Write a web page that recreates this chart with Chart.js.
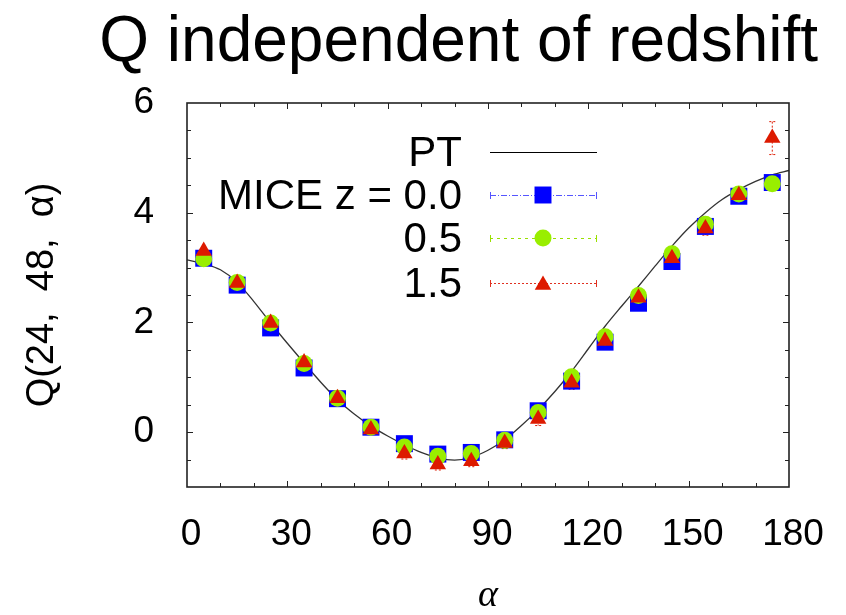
<!DOCTYPE html>
<html>
<head>
<meta charset="utf-8">
<script src="https://cdn.jsdelivr.net/npm/chart.js@4.4.0/dist/chart.umd.min.js"></script>
<style>
  html, body { margin: 0; padding: 0; background: #fff; }
  #wrap { width: 846px; height: 615px; }
</style>
</head>
<body>
<div id="wrap"><canvas id="qChart" width="846" height="615"></canvas></div>
<script>
// MICE measurements, alpha bin centres (degrees)
const alphaBins = [5, 15, 25, 35, 45, 55, 65, 75, 85, 95, 105, 115, 125, 135, 145, 155, 165, 175];
const miceZ00 = [3.17, 2.68, 1.90, 1.17, 0.61, 0.09, -0.21, -0.40, -0.37, -0.14, 0.39, 0.93, 1.64, 2.35, 3.11, 3.75, 4.30, 4.55];
const miceZ05 = [3.16, 2.73, 1.99, 1.25, 0.62, 0.09, -0.27, -0.44, -0.39, -0.15, 0.36, 1.01, 1.74, 2.49, 3.25, 3.79, 4.34, 4.53];
const miceZ15 = [3.30, 2.72, 1.99, 1.27, 0.62, 0.05, -0.39, -0.59, -0.53, -0.20, 0.24, 0.90, 1.66, 2.45, 3.17, 3.71, 4.32, 5.36];
const miceZ15Err = [0.05, 0.05, 0.05, 0.05, 0.05, 0.06, 0.1, 0.1, 0.1, 0.1, 0.12, 0.12, 0.1, 0.1, 0.1, 0.12, 0.1, 0.3];

// perturbation theory curve
const ptAlpha = [0, 5, 10, 15, 20, 25, 30, 35, 40, 45, 50, 55, 60, 65, 70, 75, 80, 85, 90,
                 95, 100, 105, 110, 115, 120, 125, 130, 135, 140, 145, 150, 155, 160, 165, 170, 175, 180];
const ptQ = [3.14, 3.07, 2.96, 2.73, 2.38, 1.99, 1.62, 1.26, 0.91, 0.59, 0.33, 0.11, -0.07, -0.23, -0.37, -0.47, -0.51, -0.46, -0.33,
             -0.14, 0.12, 0.41, 0.74, 1.11, 1.52, 1.93, 2.30, 2.66, 3.03, 3.39, 3.72, 4.00, 4.24, 4.42, 4.57, 4.69, 4.77];

const xTickLabels = [0, 30, 60, 90, 120, 150, 180];
const yTickLabels = [0, 2, 4, 6];

const FONT = '"Liberation Sans", Arial, Helvetica, sans-serif';
const TITLE = 'Q independent of redshift';

const toPoints = (xs, ys) => xs.map((x, i) => ({ x: x, y: ys[i] }));

// slide title, sits right of the plot area
const slideTitle = {
    id: 'slideTitle',
    afterDraw(chart) {
        const ctx = chart.ctx;
        ctx.save();
        ctx.font = '64px ' + FONT;
        ctx.fillStyle = '#000';
        ctx.textAlign = 'right';
        ctx.textBaseline = 'alphabetic';
        ctx.fillText(TITLE, 818, 61);
        ctx.restore();
    }
};

// error bars (dotted, gnuplot style)
const errorBars = {
    id: 'errorBars',
    beforeDatasetsDraw(chart) {
        const ctx = chart.ctx;
        const yScale = chart.scales.y;
        chart.data.datasets.forEach((ds, i) => {
            if (!ds.errors) return;
            const meta = chart.getDatasetMeta(i);
            ctx.save();
            ctx.strokeStyle = ds.borderColor;
            ctx.lineWidth = 1;
            ctx.setLineDash([2, 2]);
            meta.data.forEach((pt, j) => {
                const v = ds.data[j].y;
                const top = yScale.getPixelForValue(v + ds.errors[j]);
                const bot = yScale.getPixelForValue(v - ds.errors[j]);
                ctx.beginPath();
                ctx.moveTo(pt.x, top);
                ctx.lineTo(pt.x, bot);
                ctx.moveTo(pt.x - 3, top);
                ctx.lineTo(pt.x + 3, top);
                ctx.moveTo(pt.x - 3, bot);
                ctx.lineTo(pt.x + 3, bot);
                ctx.stroke();
            });
            ctx.restore();
        });
    }
};

// closed frame with inward ticks on all four sides
const frame = {
    id: 'frame',
    afterDraw(chart) {
        const ctx = chart.ctx;
        const a = chart.chartArea;
        const xs = chart.scales.x, ys = chart.scales.y;
        ctx.save();
        ctx.strokeStyle = '#222';
        ctx.lineWidth = 1;
        xs.ticks.forEach(t => {
            if (t.value <= xs.min || t.value >= xs.max) return;
            const px = Math.round(xs.getPixelForValue(t.value)) + 0.5;
            const len = xTickLabels.includes(t.value) ? 6 : 4;
            ctx.beginPath();
            ctx.moveTo(px, a.bottom); ctx.lineTo(px, a.bottom - len);
            ctx.moveTo(px, a.top); ctx.lineTo(px, a.top + len);
            ctx.stroke();
        });
        ys.ticks.forEach(t => {
            if (t.value <= ys.min || t.value >= ys.max) return;
            const py = Math.round(ys.getPixelForValue(t.value)) + 0.5;
            const len = yTickLabels.includes(t.value) ? 6 : 4;
            ctx.beginPath();
            ctx.moveTo(a.left, py); ctx.lineTo(a.left + len, py);
            ctx.moveTo(a.right, py); ctx.lineTo(a.right - len, py);
            ctx.stroke();
        });
        ctx.lineWidth = 1.6;
        ctx.strokeRect(a.left, a.top, a.right - a.left, a.bottom - a.top);
        ctx.restore();
    }
};

// gnuplot-like key: text right aligned, sample line with marker on the right
const keyBox = {
    id: 'keyBox',
    afterDraw(chart) {
        const ctx = chart.ctx;
        const textRight = 462, x0 = 490, x1 = 597, xm = 543;
        const rows = [152, 195, 238, 283];
        const entries = [0, 1, 2, 3].map(i => chart.data.datasets[i]);
        ctx.save();
        ctx.font = '42px ' + FONT;
        ctx.textAlign = 'right';
        ctx.textBaseline = 'middle';
        ctx.fillStyle = '#000';
        entries.forEach((ds, k) => {
            const y = rows[k];
            ctx.fillText(ds.keyText, textRight, y + 2);
            ctx.strokeStyle = ds.keyLine;
            ctx.lineWidth = 1;
            ctx.setLineDash(ds.keyDash || []);
            ctx.beginPath();
            ctx.moveTo(x0, y + 0.5); ctx.lineTo(x1, y + 0.5);
            ctx.stroke();
            if (ds.showLine === false) {
                ctx.setLineDash([]);
                ctx.beginPath();
                ctx.moveTo(x0 + 0.5, y - 3); ctx.lineTo(x0 + 0.5, y + 4);
                ctx.moveTo(x1 - 0.5, y - 3); ctx.lineTo(x1 - 0.5, y + 4);
                ctx.stroke();
                ctx.fillStyle = ds.pointBackgroundColor;
                Chart.helpers.drawPoint(ctx, {
                    pointStyle: ds.pointStyle, radius: ds.pointRadius, rotation: 0, borderWidth: 0
                }, xm, ds.pointStyle === 'triangle' ? y + 2 : y);
                ctx.fillStyle = '#000';
            }
        });
        ctx.restore();
    }
};

const ctx = document.getElementById('qChart').getContext('2d');
new Chart(ctx, {
    type: 'scatter',
    data: {
        datasets: [
            {
                label: 'PT', keyText: 'PT', keyLine: '#000',
                type: 'line',
                data: toPoints(ptAlpha, ptQ),
                borderColor: '#333',
                borderWidth: 1.3,
                pointRadius: 0,
                fill: false,
                cubicInterpolationMode: 'monotone',
                order: 4
            },
            {
                label: 'MICE z = 0.0', keyText: 'MICE z = 0.0', keyLine: '#5555ff', keyDash: [6, 2, 1, 2],
                data: toPoints(alphaBins, miceZ00),
                showLine: false,
                pointStyle: 'rect', pointRadius: 12,
                pointBackgroundColor: '#0000ff', borderColor: '#0000ff', pointBorderWidth: 0,
                order: 3
            },
            {
                label: 'MICE z = 0.5', keyText: '0.5', keyLine: '#99e000', keyDash: [3, 4],
                data: toPoints(alphaBins, miceZ05),
                showLine: false,
                pointStyle: 'circle', pointRadius: 8.5,
                pointBackgroundColor: '#99ee00', borderColor: '#99ee00', pointBorderWidth: 0,
                order: 2
            },
            {
                label: 'MICE z = 1.5', keyText: '1.5', keyLine: '#e03020', keyDash: [2, 2],
                data: toPoints(alphaBins, miceZ15),
                errors: miceZ15Err,
                showLine: false,
                pointStyle: 'triangle', pointRadius: 9.5,
                pointBackgroundColor: '#dd1a00', borderColor: '#dd1a00', pointBorderWidth: 0,
                order: 1
            }
        ]
    },
    options: {
        responsive: false,
        devicePixelRatio: 1,
        animation: false,
        layout: { padding: { left: 0, right: 57, top: 103, bottom: 0 } },
        plugins: {
            legend: { display: false },
            tooltip: { enabled: false },
            title: { display: false }
        },
        scales: {
            x: {
                type: 'linear',
                min: 0, max: 180,
                afterFit: s => { s.height = 128; },
                grid: { display: false },
                border: { display: false },
                ticks: {
                    stepSize: 10,
                    autoSkip: false,
                    maxRotation: 0,
                    labelOffset: 4,
                    padding: 18,
                    color: '#000',
                    font: { family: FONT, size: 37 },
                    callback: v => xTickLabels.includes(v) ? String(v) : ''
                },
                title: {
                    display: true,
                    text: 'α',
                    color: '#000',
                    font: { family: '"Liberation Serif", "DejaVu Serif", serif', size: 38, style: 'italic', lineHeight: 1 },
                    padding: { top: 0, bottom: 0 }
                }
            },
            y: {
                min: -1, max: 6,
                afterFit: s => { s.width = 187; },
                grid: { display: false },
                border: { display: false },
                ticks: {
                    stepSize: 0.5,
                    autoSkip: false,
                    padding: 25,
                    color: '#000',
                    font: { family: FONT, size: 37 },
                    callback: v => yTickLabels.includes(v) ? String(v) : ''
                },
                title: {
                    display: true,
                    text: 'Q(24,  48,  α)',
                    color: '#000',
                    font: { family: FONT, size: 38, lineHeight: 1.2 },
                    padding: { top: 20, bottom: 0 }
                }
            }
        }
    },
    plugins: [errorBars, frame, keyBox, slideTitle]
});
</script>
</body>
</html>
